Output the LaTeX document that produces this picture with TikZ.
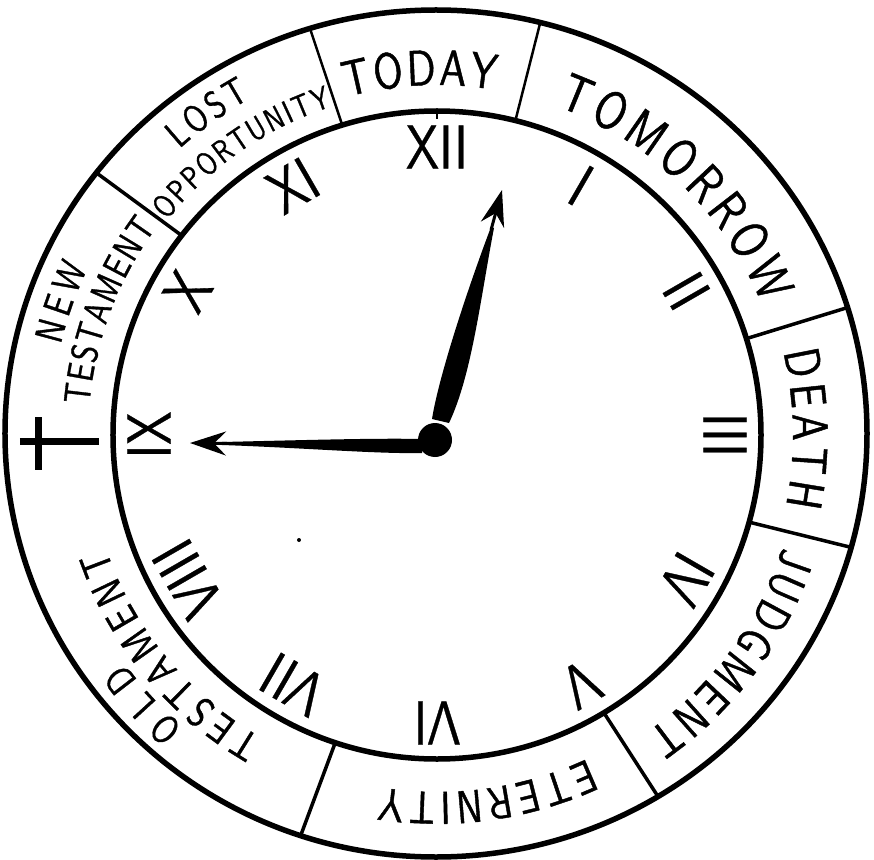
\documentclass[tikz,border=0pt]{standalone}
\usepackage{fontspec}
\newfontfamily\handfont[FakeStretch=0.8, FakeBold=0.9]{lmsans10-regular.otf}
\newfontfamily\numfont[FakeStretch=0.8, FakeBold=0.5]{lmsans10-regular.otf}
\usetikzlibrary{arrows.meta, decorations.text}

% curved label in the ring: start angle, end angle, baseline radius, font size, text
\newcommand{\ringlabel}[5]{%
  \path[decorate, decoration={text along path, text align=fit to path,
      text={|\handfont\fontsize{#4}{#4}\selectfont|#5}}]
    (#1:#3) arc[start angle=#1, end angle=#2, radius=#3];}

\begin{document}
\begin{tikzpicture}[x=1pt, y=1pt,
    rim/.style={line width=5.5pt},
    divider/.style={line width=3.5pt},
    thindivider/.style={line width=2.5pt},
    numeral/.style={font=\numfont\fontsize{62}{62}\selectfont, inner sep=0pt},
    hand/.style={line width=3pt, -{Stealth[length=36pt, width=24pt, inset=12pt]}}]
  \useasboundingbox (-437,-424) rectangle (437,435);
  % Draw dividers of the ring
  \foreach \a in {142, 17.3, -15.6, -59, -108.3}
    \draw[divider] (\a:324) -- ({431*cos(\a)-1}, {423.5*sin(\a)+1.5});
  \foreach \a in {107, 76}
    \draw[thindivider] (\a:324) -- ({431*cos(\a)-1}, {423.5*sin(\a)+1.5});
  % Draw rims
  \draw[rim] (-1,1.5) ellipse [x radius=431, y radius=423.5];
  \draw[rim] (0,0) circle [radius=324];
  \draw[line width=2pt] (0,324) -- (0,316);
  % Cross between the two testaments
  \draw[line width=7pt] (-417,-6) -- (-338,-6);
  \draw[line width=7pt] (-398,18) -- (-398,-35);
  % Labels in the ring
  \ringlabel{105}{80.5}{350}{50}{TODAY}
  \ringlabel{70}{22}{350}{53}{TOMORROW}
  \ringlabel{13.5}{-11.5}{356}{50}{DEATH}
  \ringlabel{-18}{-55}{364}{48}{JUDGMENT}
  \ringlabel{-65}{-99}{357}{46}{ETERNITY}
  \ringlabel{229}{216}{387}{40}{OLD}
  \ringlabel{240}{199}{350}{42}{TESTAMENT}
  \ringlabel{166.5}{154.5}{387}{39}{NEW}
  \ringlabel{175}{143.5}{349}{37}{TESTAMENT}
  \ringlabel{132}{119}{385}{38}{LOST}
  \ringlabel{141.5}{107.8}{345}{32}{OPPORTUNITY}
  % Numerals
  \foreach \h/\t in {1/I, 2/II, 3/III, 4/IV, 5/V, 6/VI, 7/VII, 8/VIII, 9/IX, 10/X, 11/XI, 12/XII}
    \node[numeral, rotate=-30*\h] (h\h) at ({90-30*\h}:288) {\t};
  % Hands
  \fill (-5,16) .. controls (2,60) and (32,150) .. (54,208) -- (57,207) .. controls (44,140) and (35,60) .. (12,12) -- cycle;
  \draw[hand] (54,205) -- (65,245);
  \fill (-15,-4) .. controls (-60,-3) and (-130,-5) .. (-215,-7) -- (-215,-10) .. controls (-130,-13) and (-60,-19) .. (-15,-18) -- cycle;
  \draw[hand] (-210,-8.5) -- (-247,-8);
  \fill (-2,-5) circle [radius=17];
  \fill (-138,-105) circle [radius=2];
\end{tikzpicture}
\end{document}
